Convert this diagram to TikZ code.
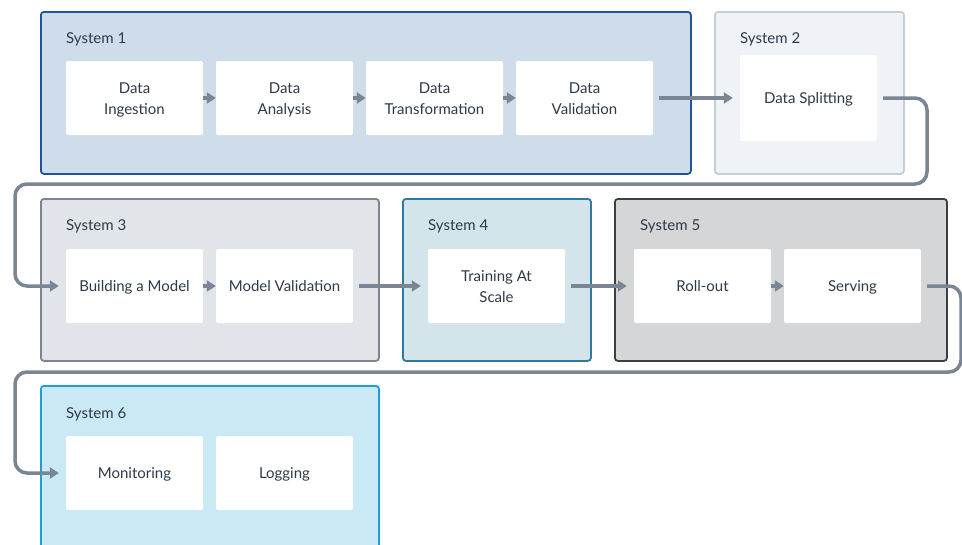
\documentclass[tikz,border=0pt]{standalone}
\usepackage{fontspec}
\setmainfont{Lato}
\usetikzlibrary{arrows.meta}
\definecolor{txt}{HTML}{2E3A47}
\definecolor{conncol}{HTML}{7A8693}
\definecolor{fA}{HTML}{CFDCE9}\definecolor{bA}{HTML}{1F5596}
\definecolor{fB}{HTML}{EFF3F7}\definecolor{bB}{HTML}{C5CED7}
\definecolor{fC}{HTML}{E1E4E8}\definecolor{bC}{HTML}{7B8590}
\definecolor{fD}{HTML}{D3E4EA}\definecolor{bD}{HTML}{2E7AA1}
\definecolor{fE}{HTML}{D5D6D8}\definecolor{bE}{HTML}{3A3F45}
\definecolor{fF}{HTML}{C9E9F5}\definecolor{bF}{HTML}{1E9ED3}
\newcommand{\tln}{\rule[-5pt]{0pt}{21pt}}
\tikzset{
  container/.style={draw, line width=1.8pt, rounded corners=3pt, anchor=north west, inner sep=0pt},
  syslabel/.style={anchor=west, text=txt, font=\fontsize{15}{18}\selectfont, inner sep=0pt},
  task/.style={fill=white, rounded corners=2pt, minimum width=137pt, minimum height=74pt, inner sep=0pt,
    align=center, text=txt, font=\fontsize{15}{21}\selectfont},
  conn/.style={draw=conncol, line width=3.5pt, -{Triangle[length=9pt,width=11pt]}},
  longconn/.style={conn, shorten <=6pt, shorten >=7pt, rounded corners=12pt},
}
\begin{document}
\begin{tikzpicture}[x=1pt,y=-1pt]
\useasboundingbox (0,0) rectangle (962,544);
% containers
\node[container, draw=bA, fill=fA, minimum width=650pt, minimum height=162pt] (s1) at (40,11) {};
\node[container, draw=bB, fill=fB, minimum width=189pt, minimum height=162pt] (s2) at (714,11) {};
\node[container, draw=bC, fill=fC, minimum width=338pt, minimum height=162pt] (s3) at (40,198) {};
\node[container, draw=bD, fill=fD, minimum width=188pt, minimum height=162pt] (s4) at (402,198) {};
\node[container, draw=bE, fill=fE, minimum width=332pt, minimum height=162pt] (s5) at (614,198) {};
\node[container, draw=bF, fill=fF, minimum width=338pt, minimum height=180pt] (s6) at (40,385) {};
% labels
\node[syslabel] (l1) at (66,39) {System 1};
\node[syslabel] (l2) at (740,39) {System 2};
\node[syslabel] (l3) at (66,226) {System 3};
\node[syslabel] (l4) at (428,226) {System 4};
\node[syslabel] (l5) at (640,226) {System 5};
\node[syslabel] (l6) at (66,414) {System 6};
% tasks
\node[task] (di) at (134.5,98) {\tln Data\\\tln Ingestion};
\node[task] (da) at (284.5,98) {\tln Data\\\tln Analysis};
\node[task] (dt) at (434.5,98) {\tln Data\\\tln Transformation};
\node[task] (dv) at (584.5,98) {\tln Data\\\tln Validation};
\node[task, minimum height=86pt] (ds) at (808.5,98) {\tln Data Splitting};
\node[task] (bm) at (134.5,286) {\tln Building a Model};
\node[task] (mv) at (284.5,286) {\tln Model Validation};
\node[task] (ts) at (496.5,286) {\tln Training At\\\tln Scale};
\node[task] (ro) at (702.5,286) {\tln Roll-out};
\node[task] (sv) at (852.5,286) {\tln Serving};
\node[task] (mo) at (134.5,473) {\tln Monitoring};
\node[task] (lg) at (284.5,473) {\tln Logging};
% route corners
\coordinate (r1) at (927,184);
\coordinate (r2) at (15,184);
\coordinate (r3) at (961,372);
\coordinate (r4) at (15,372);
% connectors
\draw[conn] (di) -- (da);
\draw[conn] (da) -- (dt);
\draw[conn] (dt) -- (dv);
\draw[longconn] (dv) -- (ds);
\draw[longconn] (ds.east) -| (r1) -- (r2) |- (bm.west);
\draw[conn] (bm) -- (mv);
\draw[longconn] (mv) -- (ts);
\draw[longconn] (ts) -- (ro);
\draw[conn] (ro) -- (sv);
\draw[longconn] (sv.east) -| (r3) -- (r4) |- (mo.west);
\end{tikzpicture}
\end{document}
